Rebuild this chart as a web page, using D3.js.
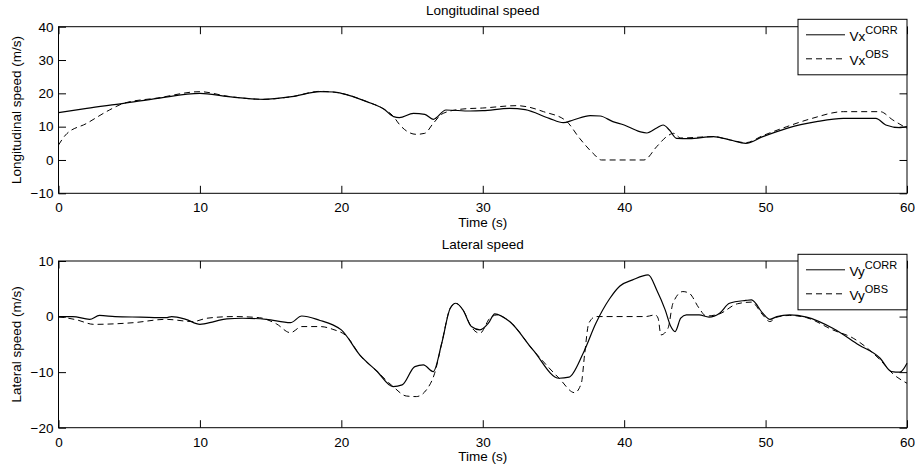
<!DOCTYPE html>
<html lang="en">
<head>
  <meta charset="UTF-8">
  <title>Longitudinal and lateral speed</title>
  <script src="https://d3js.org/d3.v7.min.js"></script>
  <style>
    body {
      margin: 0;
      background: white;
    }
    svg {
      display: block;
      font-family: "Liberation Sans", Arial, Helvetica, sans-serif;
    }
    .tick text {
      font-size: 13.5px;
      fill: black;
    }
    .tick line {
      stroke: black;
    }
  </style>
</head>
<body>
  <svg width="915" height="471"></svg>
  <script>
    // values: [time (s), speed (m/s)]
    const vxCorr = [
      [0, 14.2], [2, 15.5], [4.6, 17], [7, 18.5], [10, 20], [12, 19], [14.5, 18.2], [16.5, 19],
      [18.5, 20.5], [19.5, 20.4], [20, 20], [21.8, 17.5], [23, 15.3], [23.7, 13], [24.1, 12.7],
      [25.1, 14], [25.9, 13.7], [26.5, 12.2], [27.4, 15], [29.1, 14.7], [30, 14.8], [31.9, 15.5],
      [33, 15.1], [34.7, 12.5], [35.7, 11.2], [36.4, 12], [37.6, 13.3], [38.3, 13.2], [39.2, 11.5],
      [40, 10.5], [41.1, 8.5], [41.6, 8.1], [42.3, 9.6], [42.75, 10.5], [43.2, 9], [43.7, 6.5],
      [44.6, 6.4], [46.3, 7], [47.5, 6], [48.6, 5], [49.8, 7], [51.5, 9.5], [53.6, 11.5],
      [55.5, 12.5], [57.8, 12.5], [58.5, 10.5], [59.5, 9.7], [60, 10]
    ];
    const vxObs = [
      [0, 4.5], [0.5, 7.5], [2, 11], [3.6, 15], [4.6, 17], [7, 18.6], [10, 20.5], [12, 19.1],
      [14.5, 18.2], [16.5, 19], [18.5, 20.6], [20, 20], [21.8, 17.5], [23, 15.3], [23.7, 13],
      [24.1, 10.7], [25.3, 7.7], [25.9, 8], [26.5, 11], [27.2, 14], [28.6, 15.3], [30, 15.6],
      [32.4, 16.3], [33.1, 16], [34.3, 14.5], [35.9, 11.7], [36.85, 6.5], [37.8, 2], [38.4, 0],
      [41.4, 0], [42.3, 4], [43, 7], [43.5, 8], [44, 6.6], [46.3, 7], [47.5, 6], [48.6, 5.2],
      [49.8, 7.3], [51.5, 10], [53.3, 12.5], [55.5, 14.5], [58.1, 14.5], [59, 12], [60, 9.5]
    ];
    const vyCorr = [
      [0, 0], [1, 0], [2.2, -0.5], [2.9, 0.2], [4, 0], [5.8, -0.1], [7.6, -0.2], [8, 0],
      [9, -0.5], [10, -1.4], [11, -0.9], [11.9, -0.4], [13, -0.3], [14.7, -0.5], [16.4, -1.1],
      [17.2, 0.1], [18.5, -0.7], [19.4, -1.5], [20, -2.4], [21.3, -6.9], [22.5, -9.8],
      [23.66, -12.6], [24.3, -12.3], [25.2, -9], [25.8, -8.7], [26.5, -9.9], [27.1, -4.8],
      [27.7, 1.5], [28.1, 2.4], [28.6, 1.2], [29.2, -1.8], [29.8, -2.4], [30.4, -1.2],
      [30.85, 0.5], [31.9, -0.9], [33.55, -6], [35.4, -11.1], [36.1, -10.9], [37.1, -6.6],
      [38, -1.2], [38.97, 3.2], [39.7, 5.5], [40.6, 6.6], [41.7, 7.5], [42.3, 4.8], [42.9, 1.2],
      [43.3, -1.8], [43.6, -2.7], [44, -0.3], [44.4, 0.3], [45.3, 0.3], [46, -0.1], [46.75, 0.6],
      [47.45, 2.4], [48.6, 2.9], [49, 3], [49.8, 0.6], [50.3, -0.5], [50.8, 0], [51.7, 0.3],
      [52.9, -0.1], [54.75, -2.1], [56.6, -5.1], [58.1, -7.5], [58.9, -9.9], [59.5, -10], [60, -8.4]
    ];
    const vyObs = [
      [0, 0], [1.3, -0.6], [2.5, -1.4], [5.3, -1.1], [7.6, -0.5], [9.5, -0.9], [10.5, -0.3],
      [12.4, 0], [14.2, -0.2], [15.4, -1.3], [16.4, -2.9], [17.2, -1.8], [18.5, -1.8],
      [19.4, -2.3], [20.4, -3.6], [21.3, -6.9], [22.5, -9.8], [23.66, -12.6], [24.6, -14.3],
      [25.3, -14.4], [26.1, -12.9], [26.6, -10.2], [27.1, -4.8], [27.7, 1.5], [28.1, 2.4],
      [28.6, 1.2], [29.2, -1.9], [29.8, -3], [30.5, -0.3], [31, 0.3], [31.9, -0.9], [33.55, -6],
      [35.4, -11.1], [36.5, -13.7], [36.97, -12], [37.2, -6.9], [37.5, -1.2], [38, 0], [41.5, 0],
      [42.2, 0.3], [42.4, -0.3], [42.6, -3.3], [43.1, -2.1], [43.45, 2.4], [44.15, 4.5],
      [44.6, 4.2], [45.3, 1.5], [45.8, 0.1], [46.75, 0.5], [48, 2.3], [49, 2.6], [49.8, 0.3],
      [50.3, -0.9], [50.8, -0.1], [51.7, 0.2], [52.9, -0.2], [54.75, -2.4], [56.2, -3.9],
      [58.1, -7.8], [59, -10.3], [60, -12]
    ];

    const timeTicks = [0, 10, 20, 30, 40, 50, 60];
    const vxTicks = [-10, 0, 10, 20, 30, 40];
    const vyTicks = [-20, -10, 0, 10];

    const svg = d3.select("svg");
    const left = 58.5, right = 907;
    const tickLen = 7.5;

    const x = d3.scaleLinear().domain([0, 60]).range([left, right]);

    function drawPanel(opt) {
      const y = d3.scaleLinear().domain(opt.domain).range([opt.bottom, opt.top]);
      const g = svg.append("g");

      const axes = [
        [d3.axisBottom(x).tickValues(timeTicks), `translate(0,${opt.bottom})`, true],
        [d3.axisTop(x).tickValues(timeTicks), `translate(0,${opt.top})`, false],
        [d3.axisLeft(y).tickValues(opt.ticks), `translate(${left},0)`, true],
        [d3.axisRight(y).tickValues(opt.ticks), `translate(${right},0)`, false]
      ];
      axes.forEach(([axis, tr, labels]) => {
        const a = g.append("g")
          .attr("transform", tr)
          .call(axis.tickSize(-tickLen).tickSizeOuter(0).tickPadding(5));
        a.select(".domain").remove();
        if (!labels) a.selectAll("text").remove();
      });
      // x labels sit a little lower, like the reference
      g.selectAll(".tick text").filter(function () {
        return this.getAttribute("dy") === "0.71em";
      }).attr("y", 9.5);

      g.append("rect")
        .attr("x", left).attr("y", opt.top)
        .attr("width", right - left).attr("height", opt.bottom - opt.top)
        .attr("fill", "none").attr("stroke", "black").attr("stroke-width", 1);

      const line = d3.line()
        .x(d => x(d[0]))
        .y(d => y(d[1]))
        .curve(d3.curveMonotoneX);

      g.append("path").datum(opt.obs)
        .attr("d", line).attr("fill", "none")
        .attr("stroke", "black").attr("stroke-width", 1)
        .attr("stroke-dasharray", "6,4");
      g.append("path").datum(opt.corr)
        .attr("d", line).attr("fill", "none")
        .attr("stroke", "black").attr("stroke-width", 1.2);

      g.append("text")
        .attr("x", (left + right) / 2).attr("y", opt.top - 12)
        .attr("text-anchor", "middle").attr("font-size", "13.5px")
        .text(opt.title);
      g.append("text")
        .attr("x", (left + right) / 2).attr("y", opt.bottom + 33.5)
        .attr("text-anchor", "middle").attr("font-size", "13.5px")
        .text("Time (s)");
      g.append("text")
        .attr("transform", `translate(21,${(opt.top + opt.bottom) / 2}) rotate(-90)`)
        .attr("text-anchor", "middle").attr("font-size", "13.5px")
        .text(opt.ylabel);

      // legend
      const lx = 798, ly = opt.legendTop;
      const lg = g.append("g");
      lg.append("rect")
        .attr("x", lx).attr("y", ly).attr("width", right - lx).attr("height", 55.5)
        .attr("fill", "white").attr("stroke", "black").attr("stroke-width", 1);
      [["CORR", 15.5, null], ["OBS", 39.5, "6,4"]].forEach(([sup, dy, dash]) => {
        lg.append("line")
          .attr("x1", 806).attr("x2", 845)
          .attr("y1", ly + dy).attr("y2", ly + dy)
          .attr("stroke", "black").attr("stroke-width", 1)
          .attr("stroke-dasharray", dash);
        const t = lg.append("text")
          .attr("x", 849.5).attr("y", ly + dy + 6.5)
          .attr("font-size", "13.5px");
        t.append("tspan").text(opt.sym);
        t.append("tspan").attr("dy", -7.5).attr("font-size", "11px").text(sup);
      });
    }

    drawPanel({
      top: 26.7, bottom: 193.3, domain: [-10, 40], ticks: vxTicks,
      corr: vxCorr, obs: vxObs, title: "Longitudinal speed",
      ylabel: "Longitudinal speed (m/s)", sym: "Vx", legendTop: 19.3
    });
    drawPanel({
      top: 261, bottom: 427.7, domain: [-20, 10], ticks: vyTicks,
      corr: vyCorr, obs: vyObs, title: "Lateral speed",
      ylabel: "Lateral speed (m/s)", sym: "Vy", legendTop: 254.3
    });
  </script>
</body>
</html>
